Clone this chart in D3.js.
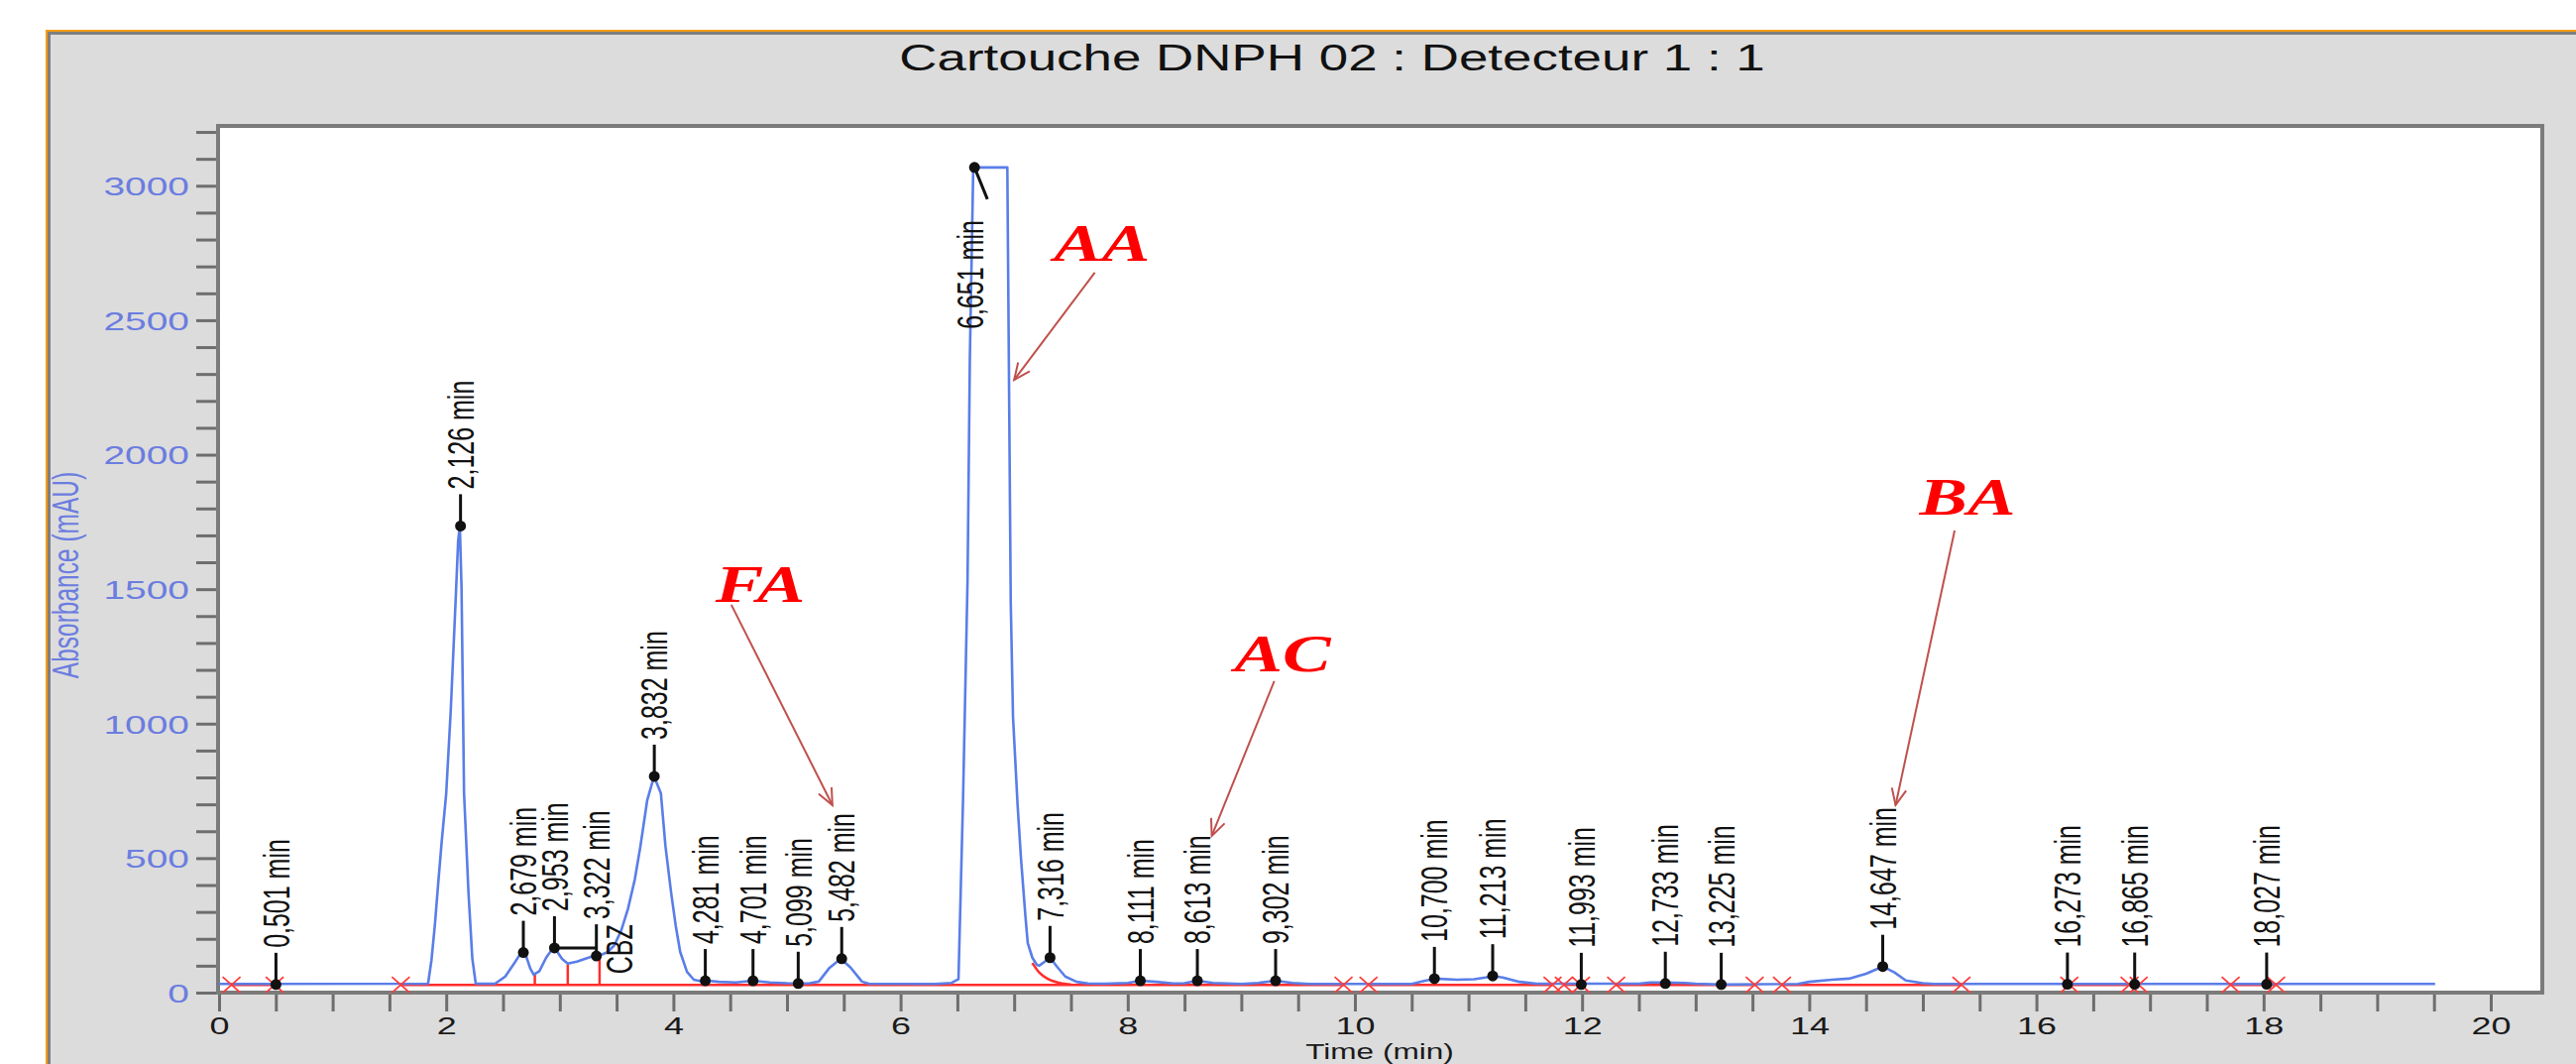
<!DOCTYPE html>
<html>
<head>
<meta charset="utf-8">
<script src="https://cdn.jsdelivr.net/npm/d3@7"></script>
<style>
  body { margin: 0; background: #fff; }
  svg { display: block; }
  text { font-family: "Liberation Sans", Arial, sans-serif; }
  text.annot { font-family: "Liberation Serif", "Times New Roman", serif; font-weight: bold; font-style: italic; }
</style>
</head>
<body>
<div id="chart"></div>
<script>
// Chromatogram trace [time (min), absorbance (mAU)]
var trace = [
  [0.00, 32], [1.84, 33], [1.87, 120], [1.90, 250], [1.93, 409], [1.96, 560], [2.00, 741],
  [2.04, 1050], [2.085, 1479], [2.105, 1680], [2.12, 1735], [2.135, 1500], [2.157, 741],
  [2.196, 372], [2.23, 126], [2.26, 33], [2.43, 33], [2.52, 60], [2.60, 110], [2.66, 149],
  [2.70, 140], [2.74, 90], [2.77, 67], [2.82, 80], [2.88, 130], [2.94, 166], [2.98, 150],
  [3.02, 125], [3.07, 108], [3.15, 115], [3.24, 128], [3.30, 136], [3.36, 140], [3.42, 150],
  [3.48, 176], [3.54, 230], [3.60, 311], [3.66, 420], [3.71, 545], [3.77, 716], [3.83, 804],
  [3.89, 741], [3.93, 545], [3.98, 372], [4.02, 250], [4.06, 151], [4.12, 77], [4.18, 48],
  [4.24, 42], [4.30, 44], [4.40, 40], [4.55, 38], [4.70, 44], [4.85, 38], [5.00, 35],
  [5.10, 34], [5.20, 35], [5.28, 41], [5.37, 90], [5.474, 126], [5.56, 93], [5.66, 41],
  [5.72, 33], [6.30, 32], [6.45, 36], [6.51, 50], [6.55, 716], [6.59, 1537], [6.61, 2355],
  [6.64, 3068], [6.94, 3068], [6.97, 1453], [6.99, 1025], [7.03, 700], [7.06, 500],
  [7.10, 280], [7.12, 184], [7.16, 130], [7.20, 103], [7.22, 100], [7.27, 115], [7.316, 130],
  [7.38, 95], [7.45, 60], [7.55, 40], [7.65, 34], [7.80, 33], [8.00, 36], [8.111, 44],
  [8.25, 40], [8.40, 34], [8.50, 35], [8.613, 44], [8.75, 36], [9.00, 32], [9.15, 36],
  [9.302, 44], [9.45, 36], [9.60, 32], [10.50, 32], [10.60, 42], [10.70, 52], [10.90, 48],
  [11.05, 50], [11.15, 56], [11.213, 62], [11.30, 56], [11.45, 40], [11.60, 33], [12.50, 33],
  [12.60, 38], [12.733, 38], [12.90, 36], [13.00, 33], [13.225, 30], [13.90, 32], [14.00, 40],
  [14.20, 48], [14.35, 52], [14.50, 70], [14.647, 97], [14.75, 75], [14.85, 45], [15.00, 35],
  [15.10, 32], [19.51, 32]
]

// Integrated peaks: retention time and apex height
var peakTimes = [0.501, 2.126, 2.679, 2.953, 3.322, 3.832, 4.281, 4.701, 5.099, 5.482, 6.651, 7.316,
  8.111, 8.613, 9.302, 10.700, 11.213, 11.993, 12.733, 13.225, 14.647, 16.273, 16.865, 18.027]
var peakHeights = [30, 1735, 149, 166, 136, 804, 44, 44, 34, 126, 3068, 130,
  44, 44, 44, 52, 62, 30, 34, 30, 97, 31, 31, 31]

// Integration baseline (red)
var baseLevel = 29
var baseSegments = [[0.11, 0.49], [1.60, 9.90], [10.12, 11.74], [11.84, 11.99], [12.30, 13.52],
  [13.76, 15.34], [16.29, 16.82], [17.71, 18.11]]
var crossTimes = [0.11, 0.49, 1.60, 9.90, 10.12, 11.74, 11.84, 11.99, 12.30, 13.52, 13.76,
  15.34, 16.29, 16.82, 16.90, 17.71, 18.11]
var dropLines = [[2.78, 67], [3.07, 105], [3.35, 140]]
var skim = [[7.16, 110], [7.22, 75], [7.30, 50], [7.40, 36], [7.50, 30]]

// Hand-written annotations: text position and arrow (from -> to), in data units
var annotNames = ['AA', 'FA', 'AC', 'BA']
var annotText = [[7.35, 2721], [4.37, 1453], [8.94, 1195], [14.97, 1777]]
var annotFrom = [[7.71, 2677], [4.51, 1442], [9.29, 1158], [15.28, 1718]]
var annotTo = [[7.00, 2278], [5.40, 697], [8.74, 583], [14.76, 697]]

var xTicks = d3.range(0, 20.001, 0.5)
var yTicks = d3.range(0, 3201, 100)

var width = 2599
var height = 1073
var SX = 1.47 // the source picture is stretched horizontally

var x = d3.scaleLinear().domain([0, 20]).range([221, 2513])
var y = d3.scaleLinear().domain([0, 3000]).range([1001, 187.3])

var frame = { left: 220, top: 127, right: 2565, bottom: 1001 }

var svg = d3.select('#chart').append('svg')
  .attr('width', width)
  .attr('height', height)

// Window panel
svg.append('rect')
  .attr('x', 46).attr('y', 30)
  .attr('width', width - 46).attr('height', height - 30)
  .attr('fill', '#f39c12')
svg.append('rect')
  .attr('x', 48).attr('y', 32)
  .attr('width', width - 48).attr('height', height - 32)
  .attr('fill', '#7f7f7f')
svg.append('rect')
  .attr('x', 51).attr('y', 35)
  .attr('width', width - 51).attr('height', height - 35)
  .attr('fill', '#dcdcdc')

function stretch(px, py, rot) {
  return 'translate(' + px + ',' + py + ') scale(' + SX + ',1)' + (rot ? ' rotate(-90)' : '')
}

svg.append('text')
  .attr('transform', stretch(1344, 71))
  .attr('text-anchor', 'middle')
  .attr('font-size', 36)
  .attr('fill', '#111')
  .text('Cartouche DNPH 02 : Detecteur 1 : 1')

// Plot area
svg.append('rect')
  .attr('x', frame.left).attr('y', frame.top)
  .attr('width', frame.right - frame.left).attr('height', frame.bottom - frame.top)
  .attr('fill', '#fff')
  .attr('stroke', '#7b7b7b')
  .attr('stroke-width', 4)

// Axes
var gx = svg.append('g')
  .attr('transform', 'translate(0,' + (frame.bottom + 2) + ')')
  .call(d3.axisBottom(x).tickValues(xTicks).tickSize(17)
    .tickFormat(function (d) { return d % 2 === 0 ? d : '' }))
gx.select('.domain').remove()
gx.selectAll('line').attr('stroke', '#6e6e6e').attr('stroke-width', 3)
gx.selectAll('text')
  .attr('y', null).attr('dy', null)
  .attr('transform', 'translate(0,40) scale(' + SX + ',1)')
  .attr('font-size', 24.5)
  .attr('font-family', null)
  .attr('fill', '#1a1a1a')

var gy = svg.append('g')
  .attr('transform', 'translate(' + (frame.left - 2) + ',0)')
  .call(d3.axisLeft(y).tickValues(yTicks).tickSize(20)
    .tickFormat(function (d) { return d % 500 === 0 ? d : '' }))
gy.select('.domain').remove()
gy.selectAll('line').attr('stroke', '#6e6e6e').attr('stroke-width', 3)
gy.selectAll('text')
  .attr('x', null).attr('dy', '0.35em')
  .attr('transform', 'translate(-27,0) scale(' + SX + ',1)')
  .attr('font-size', 26.5)
  .attr('font-family', null)
  .attr('fill', '#6b7de0')

svg.append('text')
  .attr('transform', stretch(1392, 1068))
  .attr('text-anchor', 'middle')
  .attr('font-size', 21.5)
  .attr('fill', '#1a1a1a')
  .text('Time (min)')

svg.append('text')
  .attr('transform', stretch(66, 580, true))
  .attr('text-anchor', 'middle')
  .attr('dy', '0.35em')
  .attr('font-size', 24.5)
  .attr('fill', '#6b7de0')
  .text('Absorbance (mAU)')

var plot = svg.append('g')

// Red integration baseline, drop lines and skim
plot.selectAll('.seg').data(baseSegments).enter().append('line')
  .attr('class', 'seg')
  .attr('x1', function (d) { return x(d[0]) })
  .attr('x2', function (d) { return x(d[1]) })
  .attr('y1', y(baseLevel)).attr('y2', y(baseLevel))
  .attr('stroke', '#ff2d2d').attr('stroke-width', 2.5)

plot.selectAll('.drop').data(dropLines).enter().append('line')
  .attr('class', 'drop')
  .attr('x1', function (d) { return x(d[0]) })
  .attr('x2', function (d) { return x(d[0]) })
  .attr('y1', y(baseLevel))
  .attr('y2', function (d) { return y(d[1]) })
  .attr('stroke', '#ff2d2d').attr('stroke-width', 2.5)

plot.append('path')
  .datum(skim)
  .attr('fill', 'none')
  .attr('stroke', '#ff2d2d').attr('stroke-width', 2.5)
  .attr('d', d3.line().x(function (d) { return x(d[0]) }).y(function (d) { return y(d[1]) }).curve(d3.curveMonotoneX))

// Signal
plot.append('path')
  .datum(trace)
  .attr('fill', 'none')
  .attr('stroke', '#5a7ee8')
  .attr('stroke-width', 2.6)
  .attr('stroke-linejoin', 'round')
  .attr('d', d3.line().x(function (d) { return x(d[0]) }).y(function (d) { return y(d[1]) }))

// Integration marks
plot.selectAll('.cross').data(crossTimes).enter().append('path')
  .attr('class', 'cross')
  .attr('transform', function (d) { return 'translate(' + x(d) + ',' + y(baseLevel) + ')' })
  .attr('d', 'M-9,-8L9,8M-9,8L9,-8')
  .attr('fill', 'none')
  .attr('stroke', '#ff3b3b').attr('stroke-width', 1.8)

// Peak markers and retention time labels
var peaks = peakTimes.map(function (t, i) { return { t: t, h: peakHeights[i] } })
var gPeak = plot.selectAll('.peak').data(peaks).enter().append('g').attr('class', 'peak')

gPeak.append('line')
  .attr('x1', function (d) { return x(d.t) })
  .attr('y1', function (d) { return y(d.h) })
  .attr('x2', function (d) { return d.h > 3000 ? x(d.t) + 13 : x(d.t) })
  .attr('y2', function (d) { return d.h > 3000 ? y(d.h) + 32 : y(d.h) - 32 })
  .attr('stroke', '#111').attr('stroke-width', 3)

gPeak.append('circle')
  .attr('cx', function (d) { return x(d.t) })
  .attr('cy', function (d) { return y(d.h) })
  .attr('r', 5.5)
  .attr('fill', '#111')

gPeak.append('text')
  .attr('transform', function (d) {
    return d.h > 3000 ? stretch(x(d.t) - 4, y(d.h) + 163, true) : stretch(x(d.t), y(d.h) - 37, true)
  })
  .attr('dy', '0.36em')
  .attr('font-size', 25)
  .attr('fill', '#111')
  .text(function (d) { return d.t.toFixed(3).replace('.', ',') + ' min' })

// Bracket between 2.953 and 3.322, and the CBZ tag
plot.append('line')
  .attr('x1', x(peakTimes[3])).attr('x2', x(peakTimes[4]))
  .attr('y1', y(peakHeights[3])).attr('y2', y(peakHeights[3]))
  .attr('stroke', '#111').attr('stroke-width', 3)

plot.append('text')
  .attr('transform', stretch(x(3.52), y(baseLevel + 40), true))
  .attr('dy', '0.36em')
  .attr('font-size', 25)
  .attr('fill', '#111')
  .text('CBZ')

// Annotations
var arrowColor = '#c0504d'
annotNames.forEach(function (name, i) {
  var x1 = x(annotFrom[i][0]), y1 = y(annotFrom[i][1])
  var x2 = x(annotTo[i][0]), y2 = y(annotTo[i][1])
  var ang = Math.atan2(y2 - y1, x2 - x1)
  var head = 18, spread = 0.42

  plot.append('line')
    .attr('x1', x1).attr('y1', y1).attr('x2', x2).attr('y2', y2)
    .attr('stroke', arrowColor).attr('stroke-width', 2)
  plot.append('path')
    .attr('d', 'M' + (x2 - head * Math.cos(ang - spread)) + ',' + (y2 - head * Math.sin(ang - spread)) +
      'L' + x2 + ',' + y2 +
      'L' + (x2 - head * Math.cos(ang + spread)) + ',' + (y2 - head * Math.sin(ang + spread)))
    .attr('fill', 'none')
    .attr('stroke', arrowColor).attr('stroke-width', 2)

  plot.append('text')
    .attr('class', 'annot')
    .attr('transform', 'translate(' + x(annotText[i][0]) + ',' + y(annotText[i][1]) + ') scale(1.4,1)')
    .attr('font-size', 52)
    .attr('fill', '#ff0000')
    .text(name)
})
</script>
</body>
</html>
